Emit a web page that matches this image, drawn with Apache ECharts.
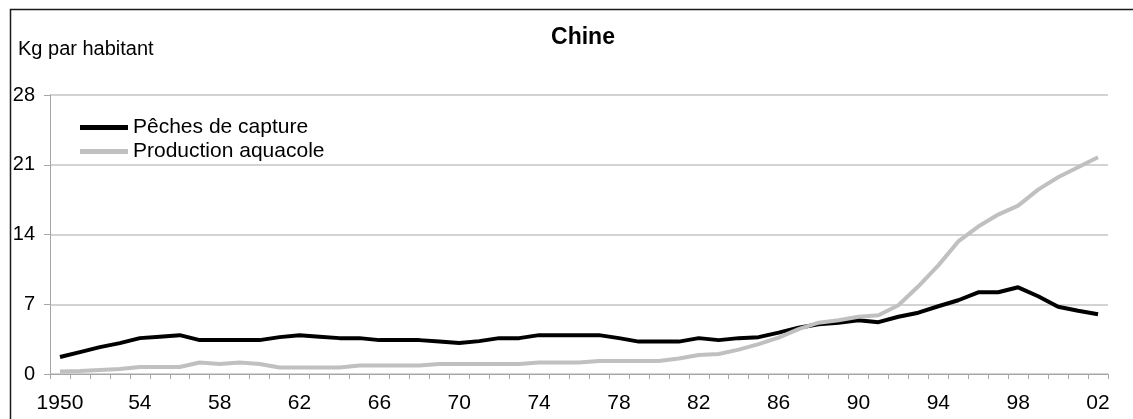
<!DOCTYPE html>
<html>
<head>
<meta charset="utf-8">
<script src="https://cdn.jsdelivr.net/npm/echarts@6/dist/echarts.min.js"></script>
<style>html,body{margin:0;padding:0;background:#fff;}#c{width:1133px;height:419px;}</style>
</head>
<body>
<div id="c"></div>
<script>
const years = [];
for (let y = 1950; y <= 2002; y++) years.push(String(y));

const captureFisheries = [
  1.7, 2.2, 2.7, 3.1, 3.6, 3.75, 3.9, 3.4, 3.4, 3.4,
  3.4, 3.7, 3.9, 3.75, 3.6, 3.6, 3.4, 3.4, 3.4, 3.25,
  3.1, 3.3, 3.6, 3.6, 3.9, 3.9, 3.9, 3.9, 3.6, 3.25,
  3.25, 3.25, 3.6, 3.4, 3.6, 3.7, 4.15, 4.65, 5.0, 5.15,
  5.4, 5.2, 5.75, 6.15, 6.8, 7.4, 8.2, 8.2, 8.7, 7.8,
  6.75, 6.35, 6.0
];
const aquaculture = [
  0.25, 0.3, 0.4, 0.5, 0.7, 0.7, 0.7, 1.15, 1.0, 1.15,
  1.0, 0.65, 0.65, 0.65, 0.65, 0.85, 0.85, 0.85, 0.85, 1.0,
  1.0, 1.0, 1.0, 1.0, 1.15, 1.15, 1.15, 1.3, 1.3, 1.3,
  1.3, 1.55, 1.9, 2.0, 2.45, 3.0, 3.65, 4.5, 5.15, 5.4,
  5.75, 5.9, 6.9, 8.8, 10.9, 13.3, 14.8, 16.0, 16.9, 18.5,
  19.75, 20.75, 21.75
];
const seriesNames = ['Pêches de capture', 'Production aquacole'];
const titleText = 'Chine';
const unitText = 'Kg par habitant';

const FONT = '"Liberation Sans", Arial, sans-serif';
const chart = echarts.init(document.getElementById('c'), null, {renderer: 'canvas'});
chart.setOption({
  animation: false,
  backgroundColor: '#ffffff',
  graphic: [
    {type: 'rect', left: 8, top: 7, silent: true,
     shape: {x: 0, y: 0, width: 1200, height: 500},
     style: {fill: 'none', stroke: '#1a1a1a', lineWidth: 1.5}},
    {type: 'text', x: 583, y: 38, silent: true,
     style: {text: titleText, fontFamily: FONT, fontWeight: 'bold', fontSize: 23, fill: '#000',
             textAlign: 'center', textVerticalAlign: 'middle'}},
    {type: 'text', x: 18, y: 49, silent: true,
     style: {text: unitText, fontFamily: FONT, fontSize: 20, fill: '#000',
             textAlign: 'left', textVerticalAlign: 'middle'}}
  ],
  legend: {
    orient: 'vertical', left: 80, top: 117, padding: 0,
    itemWidth: 48, itemHeight: 5, itemGap: 3, icon: 'rect',
    textStyle: {fontFamily: FONT, fontSize: 21, color: '#000', padding: [0, 0, 0, 0]},
    data: seriesNames
  },
  grid: {left: 50, right: 25, top: 95, bottom: 45, containLabel: false},
  xAxis: {
    type: 'category', data: years, boundaryGap: true,
    axisLine: {lineStyle: {color: '#a6a6a6', width: 1}},
    axisTick: {show: true, interval: 0, length: 5, lineStyle: {color: '#a6a6a6'}},
    axisLabel: {
      interval: 3, margin: 19, fontFamily: FONT, fontSize: 21, color: '#000',
      formatter: (v, i) => i === 0 ? v : v.slice(2)
    },
    splitLine: {show: false}
  },
  yAxis: {
    type: 'value', min: 0, max: 28, interval: 7,
    axisLine: {show: true, lineStyle: {color: '#a6a6a6', width: 1}},
    axisTick: {show: true, length: 6, lineStyle: {color: '#a6a6a6'}},
    axisLabel: {margin: 15, fontFamily: FONT, fontSize: 20, color: '#000'},
    splitLine: {show: true, lineStyle: {color: '#c4c4c4', width: 1.5}}
  },
  series: [
    {name: seriesNames[0], type: 'line', data: captureFisheries, symbol: 'none',
     lineStyle: {color: '#000000', width: 4}, itemStyle: {color: '#000000'}},
    {name: seriesNames[1], type: 'line', data: aquaculture, symbol: 'none',
     lineStyle: {color: '#c0c0c0', width: 4}, itemStyle: {color: '#c0c0c0'}}
  ]
});
</script>
</body>
</html>
